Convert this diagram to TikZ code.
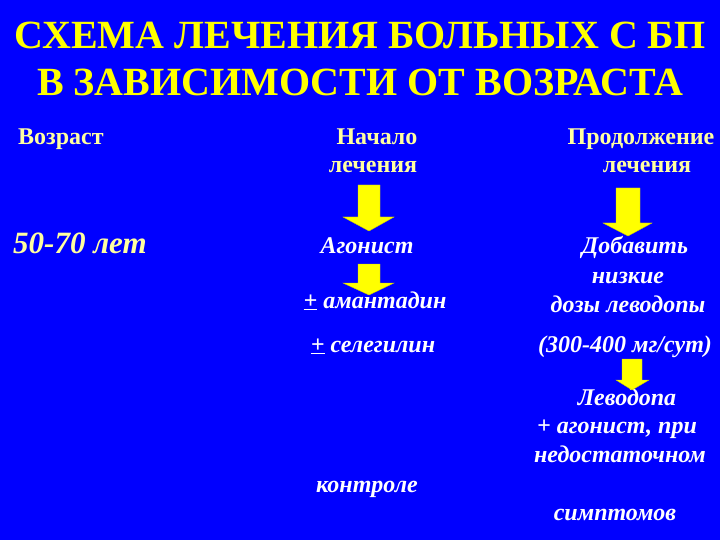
\documentclass[tikz,border=0pt]{standalone}
\usepackage{fontspec}
\setmainfont{Liberation Serif}
\definecolor{bg}{RGB}{0,0,255}
\definecolor{ttl}{RGB}{255,255,0}
\definecolor{hdr}{RGB}{255,255,160}
\begin{document}
\begin{tikzpicture}[x=1pt,y=-1pt,
  title/.style={text=ttl, font=\fontsize{40}{48}\selectfont\bfseries, anchor=base, inner sep=0pt},
  hdr/.style={text=hdr, font=\fontsize{24}{29}\selectfont\bfseries, anchor=base, inner sep=0pt},
  agestyle/.style={text=hdr, font=\fontsize{31}{37}\selectfont\bfseries\itshape, anchor=base west, inner sep=0pt},
  body/.style={text=white, font=\fontsize{24}{29}\selectfont\bfseries\itshape, anchor=base, inner sep=0pt},
  blockarrow/.style={fill=ttl, draw=ttl!80!black, line width=0.4pt}]
\fill[bg] (0,0) rectangle (720,540);
\useasboundingbox (0,0) rectangle (720,540);
% title
\node[title] (t1) at (360,49) {СХЕМА ЛЕЧЕНИЯ БОЛЬНЫХ С БП};
\node[title] (t2) at (360,96) {В ЗАВИСИМОСТИ ОТ ВОЗРАСТА};
% headers
\node[hdr, anchor=base west] (age) at (18,145) {Возраст};
\node[hdr] (start1) at (377,145) {Начало};
\node[hdr] (start2) at (373,173) {лечения};
\node[hdr] (cont1) at (641,145) {Продолжение};
\node[hdr] (cont2) at (647,173) {лечения};
% left
\node[agestyle] (years) at (13,254) {50-70 лет};
% middle column
\node[body] (ag) at (367,253) {Агонист};
\node[body] (am) at (375,308) {\underline{+} амантадин};
\node[body] (se) at (373,352) {\underline{+} селегилин};
\node[body] (ko) at (367,492) {контроле};
% right column
\node[body] (d1) at (635,254) {Добавить};
\node[body] (d2) at (628,283) {низкие};
\node[body] (d3) at (628,312) {дозы леводопы};
\node[body] (d4) at (625,352) {(300-400 мг/сут)};
\node[body] (l1) at (627,405) {Леводопа};
\node[body] (l2) at (617,433) {+ агонист, при};
\node[body] (l3) at (620,462) {недостаточном};
\node[body] (l4) at (615,520) {симптомов};
% block arrows
\filldraw[blockarrow] (358,185) -- (380,185) -- (380,217) -- (394,217) -- (369,231) -- (343,217) -- (358,217) -- cycle;
\filldraw[blockarrow] (358,264) -- (380,264) -- (380,283) -- (394,283) -- (369,295) -- (343,283) -- (358,283) -- cycle;
\filldraw[blockarrow] (616,188) -- (640,188) -- (640,223) -- (652,223) -- (628,236) -- (603,223) -- (616,223) -- cycle;
\filldraw[blockarrow] (622,359) -- (642,359) -- (642,380) -- (649,380) -- (632,390) -- (616,380) -- (622,380) -- cycle;
\end{tikzpicture}
\end{document}
